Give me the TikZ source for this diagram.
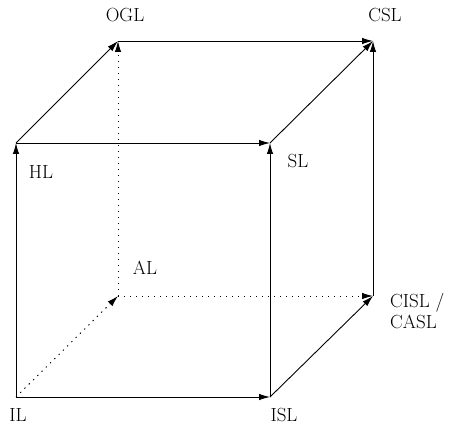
\documentclass[tikz,border=0pt]{standalone}
\usepackage{fontspec}
\usetikzlibrary{arrows.meta}
\begin{document}
\begin{tikzpicture}[x=1pt,y=-1pt,
  edge/.style={line width=0.9pt,-{Latex[length=11pt,width=6.5pt]}},
  hidden/.style={edge,dash pattern=on 1.3pt off 4.7pt},
  lab/.style={font=\fontsize{19}{21.5}\selectfont,inner sep=0pt}]
\useasboundingbox (0,0) rectangle (451,425);
% corners of the cube
\coordinate (IL) at (16,397);
\coordinate (ISL) at (270,397);
\coordinate (SL) at (270,143);
\coordinate (HL) at (16,143);
\coordinate (AL) at (118,296);
\coordinate (CISL) at (373,296);
\coordinate (CSL) at (373,41);
\coordinate (OGL) at (118,41);
% labels
\node[lab] (tOGL) at (125,15) {OGL};
\node[lab] (tCSL) at (385,15) {CSL};
\node[lab] (tHL) at (41,172) {HL};
\node[lab] (tSL) at (298,161) {SL};
\node[lab] (tAL) at (145,268) {AL};
\node[lab,align=left,anchor=west] (tCISL) at (390,311) {CISL /\\CASL};
\node[lab] (tIL) at (18,415) {IL};
\node[lab] (tISL) at (284,415) {ISL};
% hidden edges
\draw[hidden] (IL) -- (AL);
\draw[hidden] (AL) -- (OGL);
\draw[hidden] (AL) -- (CISL);
% visible edges
\draw[edge] (IL) -- (HL);
\draw[edge] (IL) -- (ISL);
\draw[edge] (HL) -- (SL);
\draw[edge] (ISL) -- (SL);
\draw[edge] (HL) -- (OGL);
\draw[edge] (SL) -- (CSL);
\draw[edge] (OGL) -- (CSL);
\draw[edge] (CISL) -- (CSL);
\draw[edge] (ISL) -- (CISL);
\end{tikzpicture}
\end{document}
